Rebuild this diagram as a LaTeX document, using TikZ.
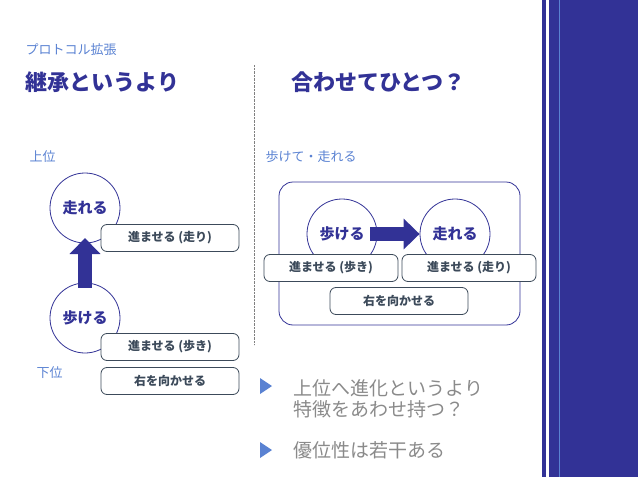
\documentclass[tikz,border=0pt]{standalone}
\usepackage{fontspec}
\usetikzlibrary{arrows.meta}
\setmainfont{Noto Sans CJK JP}
\begin{document}
\definecolor{navy}{HTML}{323296}
\definecolor{lblue}{HTML}{5A82D2}
\definecolor{boxc}{HTML}{3C4A5A}
\definecolor{gtxt}{HTML}{8A8A8A}
\begin{tikzpicture}[x=1pt,y=-1pt,
 circ/.style={circle,draw=navy,thick,fill=white,minimum size=70pt,inner sep=0pt,font=\bfseries\fontsize{15}{15}\selectfont,text=navy},
 box/.style={draw=boxc,thick,rounded corners=6pt,fill=white,minimum width=138pt,minimum height=27pt,inner sep=0pt,font=\bfseries\fontsize{12}{12}\selectfont,text=boxc},
 fat/.style={navy,line width=14pt,-{Triangle[width=30pt,length=16pt]}},
 lab/.style={text=lblue,font=\fontsize{13}{13}\selectfont,anchor=west},
 bul/.style={text=gtxt,font=\fontsize{19}{21}\selectfont,anchor=west,align=left}]
\useasboundingbox (0,0) rectangle (638,479);
\fill[navy] (542,0) rectangle (546,477);
\fill[navy] (549,0) rectangle (638,477);
\draw[lblue] (559,0) -- (559,477);
\node[lab] (t0) at (22,50) {プロトコル拡張};
\node[anchor=west,text=navy,font=\bfseries\fontsize{22}{22}\selectfont] (t1) at (22,82) {継承というより};
\node[anchor=west,text=navy,font=\bfseries\fontsize{22}{22}\selectfont] (t2) at (288,82) {合わせてひとつ？};
\draw[gray,densely dotted] (254,65) -- (254,345);
\node[lab] (up) at (26,157) {上位};
\node[lab] (dn) at (33,373) {下位};
\node[circ] (run1) at (85,208) {走れる};
\node[circ] (walk1) at (85,318) {歩ける};
\draw[fat] (walk1.north) ++(0,5) coordinate (a1) -- (85,238) coordinate (a2);
\node[box] (b1) at (170,238) {進ませる (走り)};
\node[box] (b2) at (170,347) {進ませる (歩き)};
\node[box] (b3) at (170,381) {右を向かせる};
\node[lab] (lr) at (262,157) {歩けて・走れる};
\draw[navy,thick,rounded corners=14pt] (279,182) rectangle (520,325);
\node[circ] (walk2) at (342,234) {歩ける};
\node[circ] (run2) at (455,234) {走れる};
\draw[fat] (370,234) -- (run2.west);
\node[box,minimum width=134pt] (c1) at (331,268) {進ませる (歩き)};
\node[box,minimum width=134pt] (c2) at (469,268) {進ませる (走り)};
\node[box] (c3) at (399,301) {右を向かせる};
\fill[lblue] (260,378) -- (272,386) -- (260,394) -- cycle;
\fill[lblue] (260,442) -- (272,450) -- (260,458) -- cycle;
\node[bul] (p1) at (290,399) {上位へ進化というより\\特徴をあわせ持つ？};
\node[bul] (p2) at (290,450) {優位性は若干ある};
\end{tikzpicture}
\end{document}
